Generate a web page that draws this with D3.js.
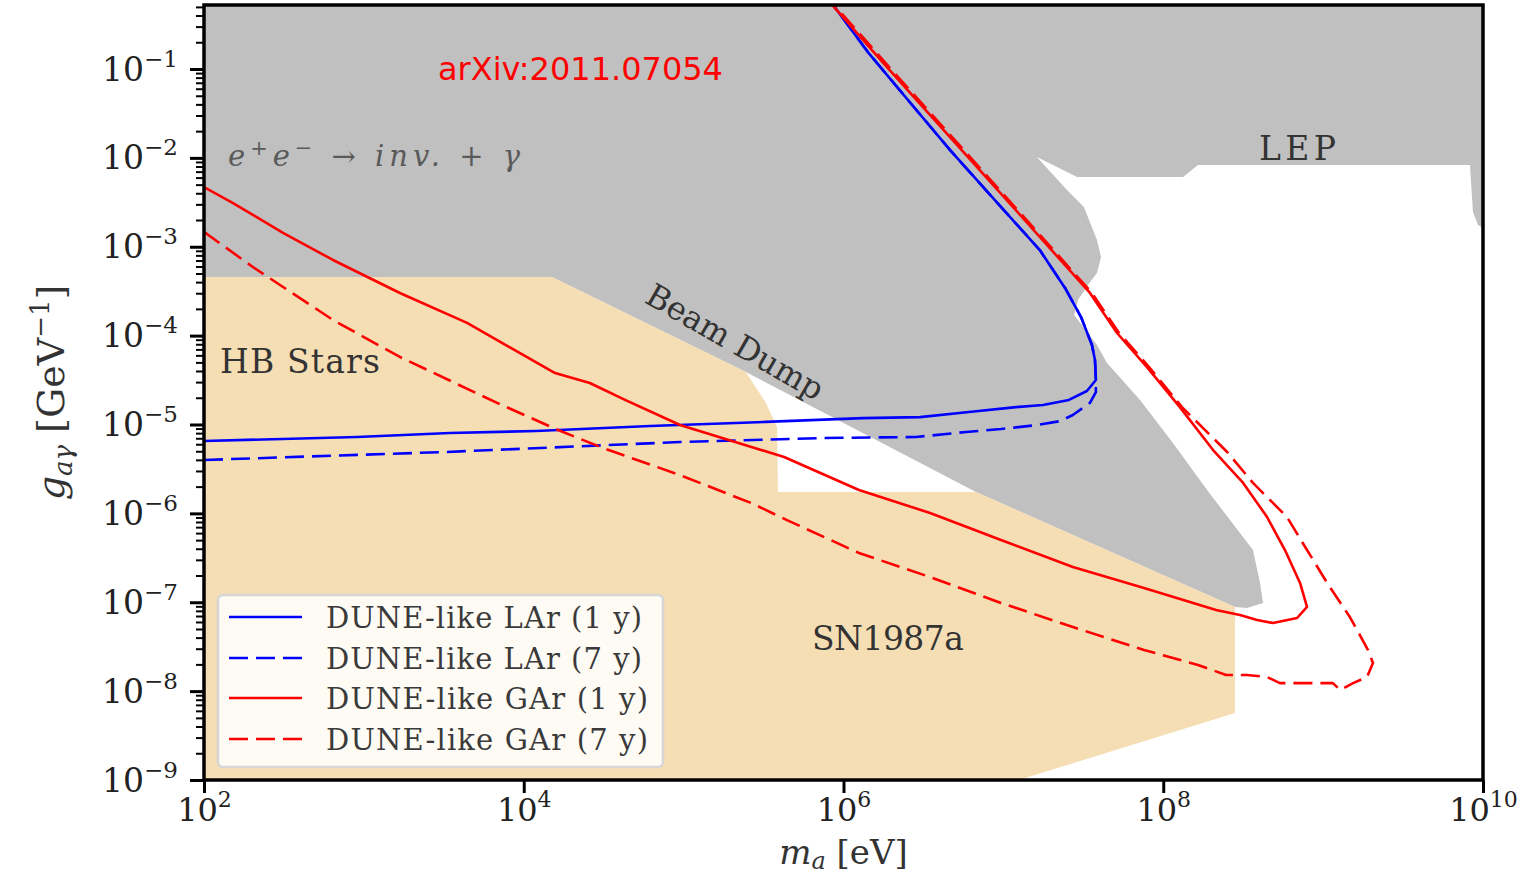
<!DOCTYPE html>
<html><head><meta charset="utf-8">
<script src="https://cdn.jsdelivr.net/npm/d3@7"></script>
<style>body{margin:0;background:#fff;} svg{display:block;}</style>
</head><body>
<svg id="chart" width="1527" height="878"></svg>
<script>
// ---------- data: [mass (eV), g_a gamma (GeV^-1)] ----------
const xTickValues = [1e2, 1e4, 1e6, 1e8, 1e10];
const xTickExps = ["2", "4", "6", "8", "10"];
const yTickValues = [1e-9, 1e-8, 1e-7, 1e-6, 1e-5, 1e-4, 1e-3, 1e-2, 1e-1];
const yTickExps = ["−9", "−8", "−7", "−6", "−5", "−4", "−3", "−2", "−1"];

const grayExcluded = [[1e2,1],[1e10,1],[1e10,1.63e-3],[9.31e9,1.76e-3],[8.65e9,2.46e-3],[8.29e9,8.32e-3],
  [1.65e8,8.32e-3],[1.33e8,6.10e-3],[2.89e7,6.10e-3],[1.62e7,1.02e-2],[2.50e7,4.36e-3],[3.19e7,2.80e-3],
  [3.85e7,1.19e-3],[4.08e7,7.67e-4],[3.85e7,5.07e-4],[3.38e7,3.71e-4],[2.93e7,2.52e-4],[2.77e7,1.71e-4],
  [3.85e7,7.85e-5],[4.45e7,4.92e-5],[7.16e7,1.89e-5],[1.15e8,6.19e-6],[1.88e8,1.83e-6],[3.02e8,6.01e-7],
  [3.64e8,3.87e-7],[4.03e8,1.65e-7],[4.21e8,9.82e-8],[3.34e8,8.62e-8],[2.81e8,8.85e-8],[6.74e6,1.74e-6],
  [2.45e5,3.90e-5],[1.50e4,4.57e-4],[1e2,4.57e-4]];

const astroExcluded = [[1e2,4.57e-4],[1.50e4,4.57e-4],[2.45e5,3.90e-5],[3.27e5,1.75e-5],[3.84e5,9.38e-6],
  [3.89e5,1.74e-6],[6.74e6,1.74e-6],[2.81e8,8.85e-8],[2.81e8,5.67e-9],[1.25e7,1e-9],[1e2,1e-9]];

const lar1y = [[1e2,6.52e-6],[9.06e2,7.23e-6],[3.46e3,8.02e-6],[1.19e4,8.45e-6],[6.17e4,9.61e-6],[3.27e5,1.07e-5],
  [1.32e6,1.18e-5],[3.01e6,1.21e-5],[6.09e6,1.38e-5],[1.20e7,1.57e-5],[1.77e7,1.66e-5],[2.57e7,1.89e-5],
  [3.33e7,2.38e-5],[3.79e7,3.17e-5],[3.74e7,5.32e-5],[3.58e7,7.85e-5],[3.06e7,1.62e-4],[2.43e7,3.44e-4],
  [1.69e7,9.18e-4],[9.53e6,2.88e-3],[4.63e6,1.23e-2],[2.53e6,4.48e-2],[1.42e6,1.55e-1],[8.00e5,6.3e-1]];

const lar7y = [[1e2,3.99e-6],[3.27e3,4.91e-6],[9.49e4,6.35e-6],[7.45e5,7.05e-6],[2.84e6,7.23e-6],[5.84e6,8.24e-6],
  [9.66e6,8.89e-6],[1.62e7,9.86e-6],[2.26e7,1.09e-5],[2.72e7,1.28e-5],[3.48e7,1.75e-5],[3.79e7,2.32e-5],
  [3.79e7,3.17e-5],[3.74e7,5.32e-5],[3.58e7,7.85e-5],[3.06e7,1.62e-4],[2.43e7,3.44e-4],[1.69e7,9.18e-4],
  [9.53e6,2.88e-3],[4.63e6,1.23e-2],[2.53e6,4.48e-2],[1.42e6,1.55e-1],[8.00e5,6.3e-1]];

const gar1y = [[1e2,4.70e-3],[1.52e2,3.10e-3],[3.12e2,1.43e-3],[6.41e2,7.10e-4],[1.68e3,3.02e-4],[4.42e3,1.39e-4],
  [1.57e4,3.79e-5],[2.59e4,2.93e-5],[4.30e4,1.89e-5],[9.49e4,9.86e-6],[4.25e5,4.31e-6],[1.25e6,1.83e-6],
  [3.48e6,1.01e-6],[9.66e6,5.01e-7],[2.72e7,2.49e-7],[7.58e7,1.45e-7],[2.14e8,8.19e-8],[3.02e8,7.19e-8],
  [3.86e8,6.31e-8],[4.86e8,5.84e-8],[6.87e8,6.65e-8],[7.93e8,8.85e-8],[7.17e8,1.65e-7],[5.77e8,3.87e-7],
  [4.46e8,9.10e-7],[3.16e8,2.20e-6],[2.05e8,5.16e-6],[1.27e8,1.57e-5],[7.91e7,4.43e-5],[5.14e7,1.07e-4],
  [3.48e7,3.02e-4],[8.87e6,4.70e-3],[1.87e6,1.05e-1],[7.78e5,6.3e-1]];

const gar7y = [[1e2,1.47e-3],[2.02e2,5.92e-4],[6.41e2,1.50e-4],[1.68e3,5.75e-5],[6.81e3,1.75e-5],[1.64e4,8.67e-6],
  [3.13e4,5.44e-6],[9.49e4,2.70e-6],[2.64e5,1.31e-6],[4.43e5,8.41e-7],[1.25e6,3.58e-7],[3.48e6,1.92e-7],
  [9.66e6,9.82e-8],[2.72e7,5.27e-8],[7.58e7,2.90e-8],[1.15e8,2.36e-8],[1.65e8,1.97e-8],[2.47e8,1.52e-8],
  [3.34e8,1.52e-8],[4.46e8,1.44e-8],[5.37e8,1.23e-8],[1.15e9,1.23e-8],[1.28e9,1.03e-8],[1.54e9,1.23e-8],
  [1.88e9,1.44e-8],[2.05e9,2.07e-8],[1.91e9,2.90e-8],[1.47e9,6.82e-8],[1.06e9,1.65e-7],[7.93e8,3.87e-7],
  [5.94e8,9.10e-7],[3.64e8,2.20e-6],[2.51e8,4.91e-6],[1.31e8,1.57e-5],[8.15e7,4.43e-5],[5.29e7,1.07e-4],
  [3.58e7,3.02e-4],[9.12e6,4.70e-3],[1.93e6,1.05e-1],[8.00e5,6.3e-1]];

const seriesNames = ["DUNE-like LAr (1 y)", "DUNE-like LAr (7 y)", "DUNE-like GAr (1 y)", "DUNE-like GAr (7 y)"];
const seriesData = [lar1y, lar7y, gar1y, gar7y];
const seriesColors = ["#0000ff", "#0000ff", "#ff0000", "#ff0000"];
const seriesDashed = [false, true, false, true];

// ---------- layout ----------
const serif = "'DejaVu Serif', serif";
const plot = {left: 204, right: 1483, top: 5, bottom: 780};
const x = d3.scaleLog().domain([1e2, 1e10]).range([plot.left, plot.right]);
const y = d3.scaleLog().domain([1e-9, 0.525]).range([plot.bottom, plot.top]);

const svg = d3.select("#chart");
svg.append("rect").attr("width", 1527).attr("height", 878).attr("fill", "#fff");
svg.append("defs").append("clipPath").attr("id", "clip").append("rect")
  .attr("x", plot.left).attr("y", plot.top)
  .attr("width", plot.right - plot.left).attr("height", plot.bottom - plot.top);

const g = svg.append("g").attr("clip-path", "url(#clip)");
const line = d3.line().x(d => x(d[0])).y(d => y(d[1]));

g.append("path").attr("d", line(grayExcluded) + "Z").attr("fill", "#c0c0c0");
g.append("path").attr("d", line(astroExcluded) + "Z").attr("fill", "#f5deb3");

seriesData.forEach((d, i) => {
  g.append("path").attr("d", line(d)).attr("fill", "none")
    .attr("stroke", seriesColors[i]).attr("stroke-width", 2.6)
    .attr("stroke-linejoin", "round")
    .attr("stroke-dasharray", seriesDashed[i] ? "19,8" : null);
});

// ---------- annotations ----------
const ann = svg.append("g").attr("font-family", serif).attr("fill", "#333");
ann.append("text").attr("x", 220).attr("y", 373).attr("font-size", 33)
  .attr("textLength", 160).attr("lengthAdjust", "spacing").text("HB Stars");
ann.append("text").attr("x", 812).attr("y", 650).attr("font-size", 33)
  .attr("textLength", 152).attr("lengthAdjust", "spacing").text("SN1987a");
ann.append("text").attr("x", 1259).attr("y", 160).attr("font-size", 33)
  .attr("textLength", 77).attr("lengthAdjust", "spacing").text("LEP");
ann.append("text").attr("transform", "translate(735,342) rotate(30)")
  .attr("text-anchor", "middle").attr("dy", 11).attr("font-size", 32).text("Beam Dump");

const ee = ann.append("text").attr("x", 228).attr("y", 166).attr("font-size", 29)
  .attr("fill", "#5a5a5a").attr("font-style", "italic")
  .attr("textLength", 292).attr("lengthAdjust", "spacing");
ee.append("tspan").text("e");
ee.append("tspan").attr("dy", -11).attr("font-size", 21).attr("font-style", "normal").text("+");
ee.append("tspan").attr("dy", 11).text("e");
ee.append("tspan").attr("dy", -11).attr("font-size", 21).attr("font-style", "normal").text("−");
ee.append("tspan").attr("dy", 11).attr("font-style", "normal").text(" → ");
ee.append("tspan").text("inv.");
ee.append("tspan").attr("font-style", "normal").text(" + ");
ee.append("tspan").text("γ");

svg.append("text").attr("x", 438).attr("y", 80).attr("font-family", "'DejaVu Sans', sans-serif")
  .attr("font-size", 32).attr("fill", "#ff0000").text("arXiv:2011.07054");

// ---------- legend ----------
const leg = svg.append("g");
leg.append("rect").attr("x", 218).attr("y", 595).attr("width", 445).attr("height", 172)
  .attr("rx", 5).attr("fill", "#fff").attr("fill-opacity", 0.85)
  .attr("stroke", "#d6d6d6").attr("stroke-width", 2.5);
const legY = [617, 658, 698, 739];
const legLen = [316, 316, 322, 322];
seriesNames.forEach((n, i) => {
  leg.append("line").attr("x1", 229).attr("x2", 302).attr("y1", legY[i]).attr("y2", legY[i])
    .attr("stroke", seriesColors[i]).attr("stroke-width", 2.6)
    .attr("stroke-dasharray", seriesDashed[i] ? "19,8" : null);
  leg.append("text").attr("x", 326).attr("y", legY[i] + 11).attr("font-family", serif)
    .attr("font-size", 29).attr("fill", "#3a3a3a")
    .attr("textLength", legLen[i]).attr("lengthAdjust", "spacing").text(n);
});

// ---------- axes ----------
const yMinor = [];
for (let e = -9; e <= -1; e++) for (let k = 2; k <= 9; k++) {
  const v = k * Math.pow(10, e);
  if (v <= 0.525) yMinor.push(v);
}
const gyMinor = svg.append("g").attr("transform", `translate(${plot.left},0)`)
  .call(d3.axisLeft(y).tickValues(yMinor).tickSize(8).tickFormat(""));
gyMinor.select(".domain").remove();
gyMinor.selectAll("line").attr("stroke", "#000").attr("stroke-width", 2);

const gy = svg.append("g").attr("transform", `translate(${plot.left},0)`)
  .call(d3.axisLeft(y).tickValues(yTickValues).tickSize(14).tickFormat(""));
gy.select(".domain").remove();
gy.selectAll("line").attr("stroke", "#000").attr("stroke-width", 3);
gy.selectAll(".tick").each(function(d, i) {
  const t = d3.select(this).append("text").attr("x", -26).attr("y", 11)
    .attr("text-anchor", "end").attr("font-family", serif).attr("font-size", 33)
    .attr("fill", "#222");
  t.append("tspan").text("10");
  t.append("tspan").attr("dy", -14).attr("font-size", 23).text(yTickExps[i]);
});

const gx = svg.append("g").attr("transform", `translate(0,${plot.bottom})`)
  .call(d3.axisBottom(x).tickValues(xTickValues).tickSize(13).tickFormat(""));
gx.select(".domain").remove();
gx.selectAll("line").attr("stroke", "#000").attr("stroke-width", 3);
gx.selectAll(".tick").each(function(d, i) {
  const t = d3.select(this).append("text").attr("x", 0).attr("y", 41)
    .attr("text-anchor", "middle").attr("font-family", serif).attr("font-size", 32)
    .attr("fill", "#222");
  t.append("tspan").text("10");
  t.append("tspan").attr("dy", -14).attr("font-size", 22).text(xTickExps[i]);
});

// frame
svg.append("rect").attr("x", plot.left).attr("y", plot.top)
  .attr("width", plot.right - plot.left).attr("height", plot.bottom - plot.top)
  .attr("fill", "none").attr("stroke", "#000").attr("stroke-width", 3.5);

// axis labels
const xl = svg.append("text").attr("x", (plot.left + plot.right) / 2).attr("y", 864)
  .attr("text-anchor", "middle").attr("font-family", serif).attr("font-size", 34).attr("fill", "#333");
xl.append("tspan").attr("font-style", "italic").text("m");
xl.append("tspan").attr("dy", 5).attr("font-size", 24).attr("font-style", "italic").text("a");
xl.append("tspan").attr("dy", -5).text(" [eV]");

const yl = svg.append("text").attr("transform", `translate(64,${(plot.top + plot.bottom) / 2}) rotate(-90)`)
  .attr("text-anchor", "middle").attr("font-family", serif).attr("font-size", 38).attr("fill", "#333");
yl.append("tspan").attr("font-style", "italic").text("g");
yl.append("tspan").attr("dy", 8).attr("font-size", 26).attr("font-style", "italic").text("aγ");
yl.append("tspan").attr("dy", -8).text(" [GeV");
yl.append("tspan").attr("dy", -15).attr("font-size", 26).text("−1");
yl.append("tspan").attr("dy", 15).text("]");
</script>
</body></html>
